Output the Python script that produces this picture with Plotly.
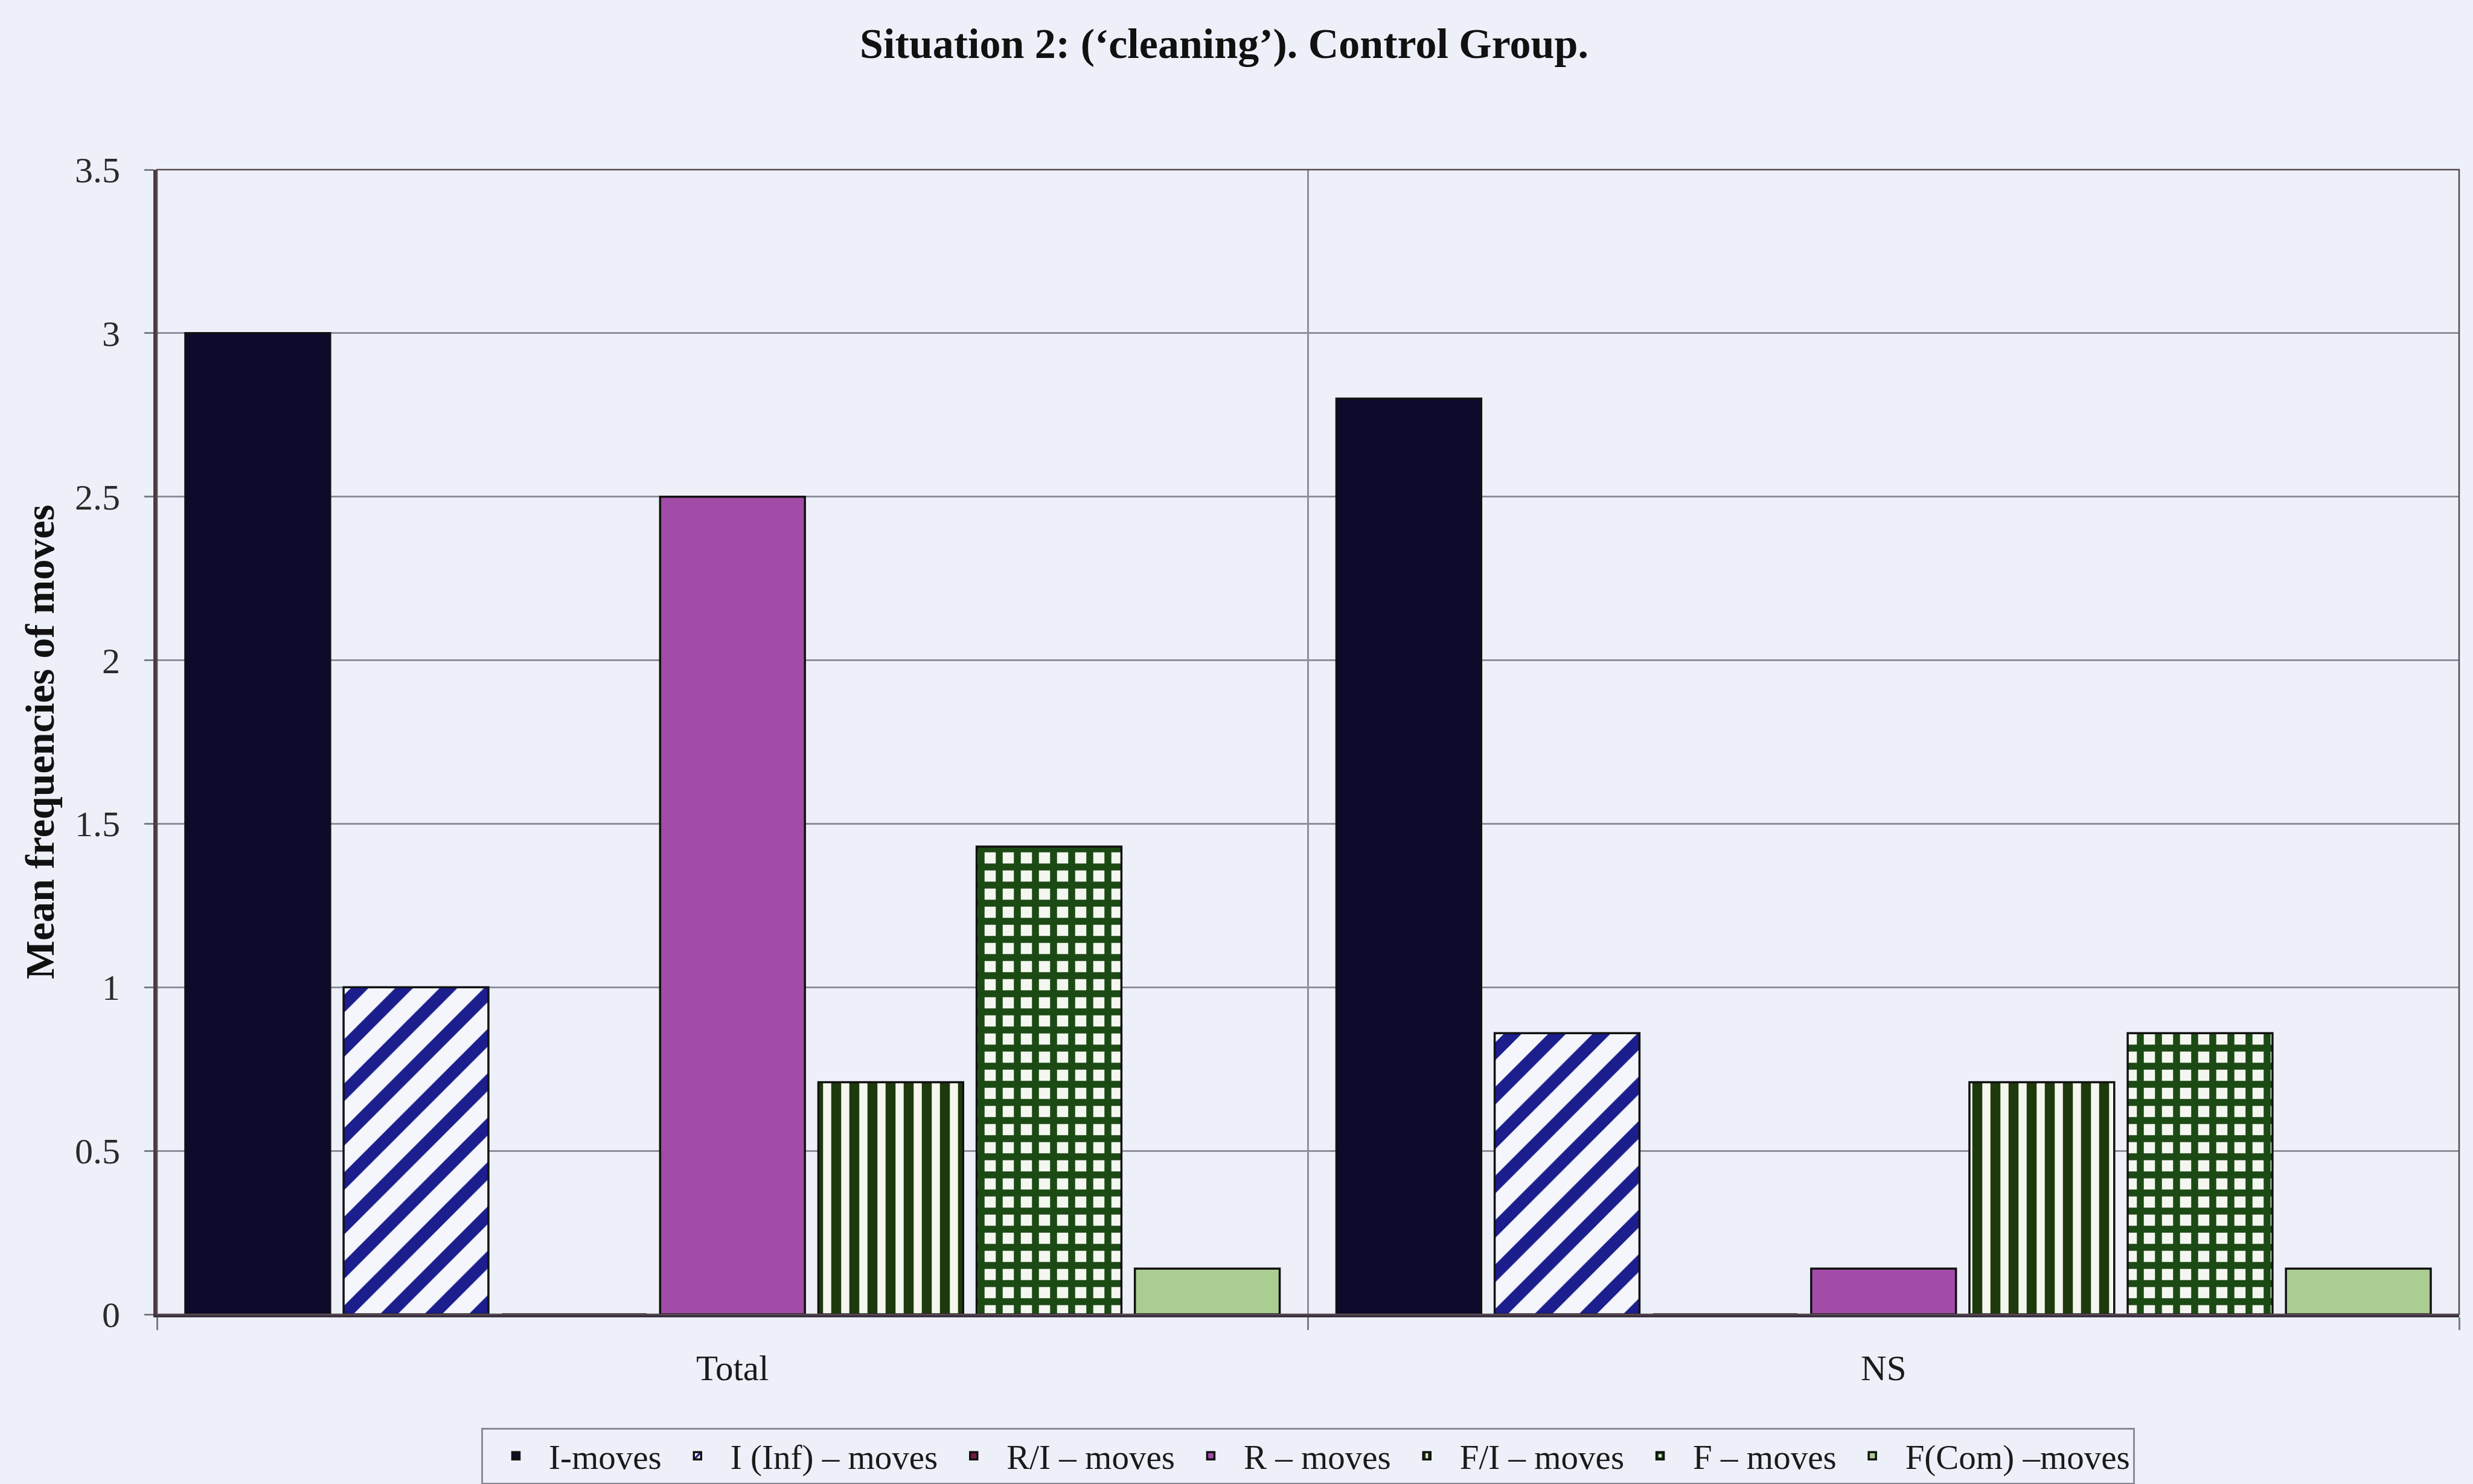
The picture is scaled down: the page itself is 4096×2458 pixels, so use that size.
import plotly.graph_objects as go

# Data: mean frequencies of moves per learner group
categories = ["Total", "NS"]
series_names = [
    "I-moves",
    "I (Inf) – moves",
    "R/I – moves",
    "R – moves",
    "F/I – moves",
    "F – moves",
    "F(Com) –moves",
]
i_moves = [3.0, 2.8]
i_inf_moves = [1.0, 0.86]
r_i_moves = [0.0, 0.0]
r_moves = [2.5, 0.14]
f_i_moves = [0.71, 0.71]
f_moves = [1.43, 0.86]
f_com_moves = [0.14, 0.14]

y_tick_values = [0, 0.5, 1, 1.5, 2, 2.5, 3, 3.5]
y_tick_labels = ["0", "0.5", "1", "1.5", "2", "2.5", "3", "3.5"]

title_text = "Situation 2: (‘cleaning’). Control Group."
y_title_text = "Mean frequencies of moves"

# Styling
BG = "#EDF0F8"
GRID = "#8E8E9C"
SERIF = "Liberation Serif, Times New Roman, serif"

series_values = [i_moves, i_inf_moves, r_i_moves, r_moves, f_i_moves, f_moves, f_com_moves]
series_styles = [
    dict(color="#0E0A2C"),
    dict(color="#F4F6FB", pattern=dict(shape="/", fgcolor="#1B1E8C", bgcolor="#F4F6FB",
                                      size=52, solidity=0.4, fillmode="replace")),
    dict(color="#7A1840"),
    dict(color="#A24CA8"),
    dict(color="#F5F7EE", pattern=dict(shape="|", fgcolor="#1E3A0C", bgcolor="#F5F7EE",
                                      size=30, solidity=0.55, fillmode="replace")),
    dict(color="#F4F6F0", pattern=dict(shape="+", fgcolor="#1C4A14", bgcolor="#F4F6F0",
                                      size=30, solidity=0.62, fillmode="replace")),
    dict(color="#AACD92"),
]

fig = go.Figure()
for name, values, style in zip(series_names, series_values, series_styles):
    marker = dict(color=style["color"], line=dict(color="#111111", width=3.5))
    if "pattern" in style:
        marker["pattern"] = style["pattern"]
    fig.add_trace(go.Bar(name=name, x=categories, y=values, marker=marker))

fig.update_layout(
    width=4096,
    height=2458,
    autosize=False,
    margin=dict(l=260, r=23, t=281, b=281, pad=0, autoexpand=False),
    paper_bgcolor=BG,
    plot_bgcolor=BG,
    barmode="group",
    bargap=0.0376,
    bargroupgap=0.085,
    font=dict(family=SERIF, size=59, color="#1A1A1A"),
    title=dict(
        text=title_text,
        font=dict(family=SERIF, size=70, color="#111111", weight="bold"),
        x=0.495, xref="container", xanchor="center",
        y=0.971, yref="container", yanchor="middle",
    ),
    showlegend=True,
    legend=dict(
        orientation="h",
        x=0.5, xanchor="center",
        y=-0.099, yanchor="top",
        bgcolor=BG,
        bordercolor="#8A8A94",
        borderwidth=3,
        font=dict(family=SERIF, size=57, color="#1A1A1A"),
        traceorder="normal",
        itemwidth=99,
        tracegroupgap=0,
    ),
)

fig.update_xaxes(
    type="category",
    range=[-0.5, 1.5],
    tickson="boundaries",
    ticks="outside",
    ticklen=21,
    tickwidth=2.5,
    tickcolor="#7A7A88",
    showgrid=True,
    gridcolor=GRID,
    gridwidth=2.5,
    showline=True,
    linecolor="#3A3242",
    linewidth=5,
    tickfont=dict(family=SERIF, size=59, color="#1A1A1A"),
    ticklabelstandoff=33,
    automargin=False,
)

fig.update_yaxes(
    range=[0, 3.5],
    tickmode="array",
    tickvals=y_tick_values,
    ticktext=y_tick_labels,
    ticks="outside",
    ticklen=15,
    tickwidth=2.5,
    tickcolor="#7A7A88",
    showgrid=True,
    gridcolor=GRID,
    gridwidth=2.5,
    zeroline=False,
    showline=True,
    linecolor="#4A3A3E",
    linewidth=6,
    tickfont=dict(family=SERIF, size=60, color="#2A2A2A"),
    ticklabelstandoff=28,
    automargin=False,
    title=dict(
        text=y_title_text,
        font=dict(family=SERIF, size=68, color="#111111", weight="bold"),
        standoff=14,
    ),
)

# Thin frame around the plotting area
fig.add_shape(
    type="rect", xref="paper", yref="paper", x0=0, y0=0, x1=1, y1=1,
    line=dict(color="#5A4A50", width=2.5), fillcolor="rgba(0,0,0,0)", layer="above",
)

fig.write_html("out.html")
